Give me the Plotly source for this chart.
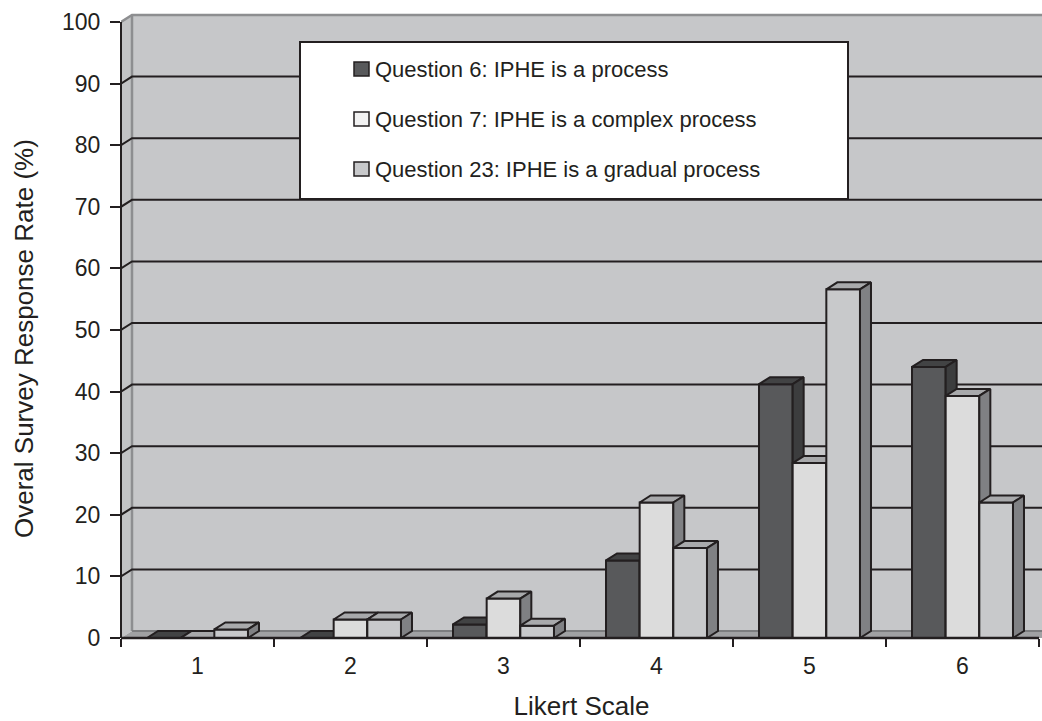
import plotly.graph_objects as go

# ---- data -------------------------------------------------------------
categories = ["1", "2", "3", "4", "5", "6"]
series_names = [
    "Question 6: IPHE is a process",
    "Question 7: IPHE is a complex process",
    "Question 23: IPHE is a gradual process",
]
q6_values = [0.0, 0.0, 2.2, 12.6, 41.2, 44.0]
q7_values = [0.0, 3.0, 6.4, 22.0, 28.4, 39.3]
q23_values = [1.4, 3.0, 2.0, 14.6, 56.6, 22.0]
y_tick_values = [0, 10, 20, 30, 40, 50, 60, 70, 80, 90, 100]

# ---- styling ----------------------------------------------------------
INK = "#231f20"
WALL = "#c6c7c9"
SIDE_WALL = "#c2c3c5"
FLOOR = "#a0a1a3"
WALL_EDGE = "#8d8e90"
FONT = "Liberation Sans, Arial, sans-serif"

front_colors = ["#58595b", "#dcdcdc", "#c8c9cb"]
top_colors = ["#424344", "#a8a9ab", "#a9aaac"]
side_colors = ["#3c3d3e", "#7f8083", "#808184"]
legend_colors = ["#58595b", "#f2f2f2", "#c8c9cb"]

W, H = 1042, 721
ML, MR, MT, MB = 121, 0, 12, 83
PX_PER_CAT = 153.0
PX_PER_UNIT = 6.16
plot_w = W - ML - MR
plot_h = H - MT - MB
x_range = [0.5, 0.5 + plot_w / PX_PER_CAT]
y_range = [0.0, plot_h / PX_PER_UNIT]
DX = 11.0 / PX_PER_CAT        # depth offset, horizontal
DY = 7.0 / PX_PER_UNIT        # depth offset, vertical
BAR_W = 0.22
X_END = x_range[1] + 0.2
Y_TOP = 100.0


def px_to_paper(px, py):
    return (px - ML) / plot_w, (H - MB - py) / plot_h


fig = go.Figure()


def polygon(xs, ys, fill, line_color=None, width=0):
    fig.add_trace(go.Scatter(
        x=list(xs) + [xs[0]], y=list(ys) + [ys[0]],
        mode="lines", fill="toself", fillcolor=fill,
        line=dict(color=line_color or fill, width=width),
        hoverinfo="skip", showlegend=False,
    ))


def polyline(xs, ys, color, width):
    fig.add_trace(go.Scatter(
        x=xs, y=ys, mode="lines", line=dict(color=color, width=width),
        hoverinfo="skip", showlegend=False, connectgaps=False,
    ))


# back wall, side wall and floor
x0 = x_range[0]
polygon([x0 + DX, X_END, X_END, x0 + DX], [DY, DY, Y_TOP + DY, Y_TOP + DY], WALL)
polygon([x0, x0 + DX, x0 + DX, x0], [0, DY, Y_TOP + DY, Y_TOP], SIDE_WALL)
polygon([x0, X_END, X_END + DX, x0 + DX], [0, 0, DY, DY], FLOOR)

# wall edges
polyline([x0 + DX, x0 + DX], [DY, Y_TOP + DY], WALL_EDGE, 2.5)
polyline([x0, x0 + DX, X_END], [Y_TOP, Y_TOP + DY, Y_TOP + DY], WALL_EDGE, 2.5)
polyline([x0 + DX, X_END], [DY, DY], "#7c7d7f", 2)

# gridlines: a diagonal across the side wall, then along the back wall
gx, gy = [], []
for v in y_tick_values[1:-1]:
    gx += [x0, x0 + DX, X_END, None]
    gy += [v, v + DY, v + DY, None]
polyline(gx, gy, INK, 2)

# 3-D columns: front face, top face, right side face
all_values = [q6_values, q7_values, q23_values]
for ci in range(len(categories)):
    centre = ci + 1
    for si, vals in enumerate(all_values):
        v = vals[ci]
        left = centre + (si - 1.5) * BAR_W
        right = left + BAR_W
        polygon([left, right, right, left], [0, 0, v, v], front_colors[si], INK, 2)
        polygon([left, right, right + DX, left + DX], [v, v, v + DY, v + DY],
                top_colors[si], INK, 2)
        polygon([right, right + DX, right + DX, right], [0, DY, v + DY, v],
                side_colors[si], INK, 2)

shapes = []
# value axis line (0..100) and category axis line
_, y100 = px_to_paper(0, H - MB - 100 * PX_PER_UNIT)
x_axis_end = (6.5 - x_range[0]) / (x_range[1] - x_range[0])
shapes.append(dict(type="line", xref="paper", yref="paper", x0=0, x1=0, y0=0, y1=y100,
                   line=dict(color=INK, width=2)))
shapes.append(dict(type="line", xref="paper", yref="paper", x0=0, x1=x_axis_end, y0=0, y1=0,
                   line=dict(color=INK, width=2.5)))

# legend box
lx0, ly0 = px_to_paper(300, 199)
lx1, ly1 = px_to_paper(848, 42)
shapes.append(dict(type="rect", xref="paper", yref="paper", x0=lx0, y0=ly0, x1=lx1, y1=ly1,
                   fillcolor="white", line=dict(color=INK, width=2)))
annotations = []
row_centres = [69, 119, 169]
for name, col, cy in zip(series_names, legend_colors, row_centres):
    sx0, sy0 = px_to_paper(354, cy + 7)
    sx1, sy1 = px_to_paper(369, cy - 7)
    shapes.append(dict(type="rect", xref="paper", yref="paper", x0=sx0, y0=sy0, x1=sx1, y1=sy1,
                       fillcolor=col, line=dict(color=INK, width=1.5)))
    tx, ty = px_to_paper(373, cy)
    annotations.append(dict(text=name, xref="paper", yref="paper", x=tx, y=ty,
                            xanchor="left", yanchor="middle", showarrow=False,
                            font=dict(family=FONT, size=22, color=INK)))

# value-axis title
tx, ty = px_to_paper(24, 339)
annotations.append(dict(text="Overal Survey Response Rate (%)", xref="paper", yref="paper",
                        x=tx, y=ty, xanchor="center", yanchor="middle", textangle=-90,
                        showarrow=False, font=dict(family=FONT, size=26, color=INK)))

fig.update_layout(
    width=W, height=H,
    margin=dict(l=ML, r=MR, t=MT, b=MB, autoexpand=False),
    paper_bgcolor="white", plot_bgcolor="white",
    showlegend=False,
    shapes=shapes, annotations=annotations,
    font=dict(family=FONT, color=INK),
    xaxis=dict(
        range=x_range, tickmode="array", tickvals=[i + 1 for i in range(len(categories))],
        ticktext=categories, ticks="", showgrid=False, zeroline=False, showline=False,
        tickfont=dict(family=FONT, size=23, color=INK), ticklabelstandoff=12,
        minor=dict(tickmode="array", tickvals=[i + 0.5 for i in range(len(categories) + 1)],
                   ticks="outside", ticklen=8, tickwidth=2, tickcolor=INK, showgrid=False),
        title=dict(text="Likert Scale", font=dict(family=FONT, size=26, color=INK), standoff=20),
        fixedrange=True,
    ),
    yaxis=dict(
        range=y_range, tickmode="array", tickvals=y_tick_values,
        ticks="outside", ticklen=10, tickwidth=2, tickcolor=INK,
        showgrid=False, zeroline=False, showline=False,
        tickfont=dict(family=FONT, size=23, color=INK), ticklabelstandoff=5,
        fixedrange=True,
    ),
)

fig.write_html("out.html")
